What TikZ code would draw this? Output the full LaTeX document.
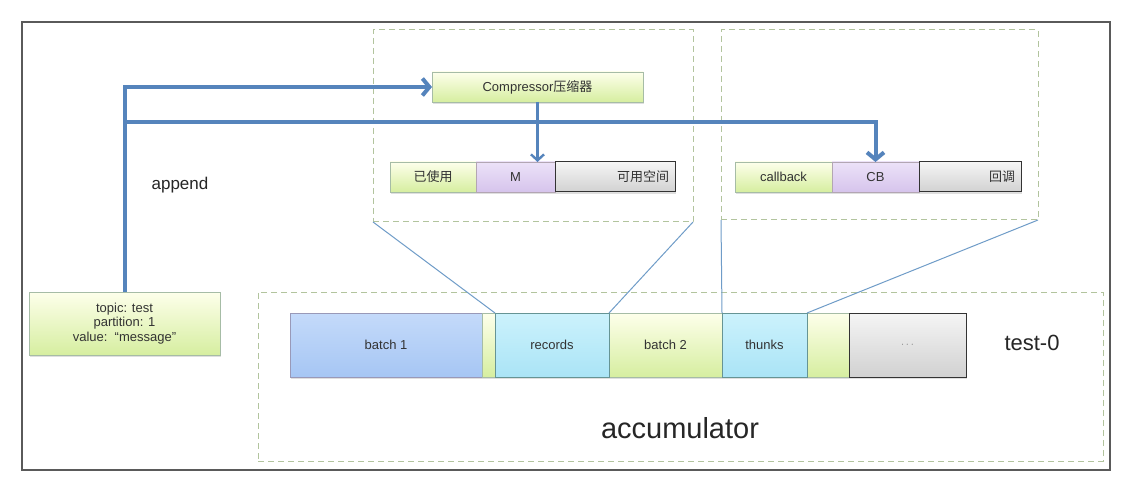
\documentclass[tikz,border=0pt]{standalone}
\usepackage{fontspec}
\setmainfont{Liberation Sans}
\newfontfamily\cjk{Noto Sans CJK SC}
\usetikzlibrary{arrows.meta,shadows}
\definecolor{arrowblue}{HTML}{5584BC}
\definecolor{thinblue}{HTML}{6F9CC8}
\definecolor{dashgreen}{HTML}{B2C49E}
\definecolor{framegray}{HTML}{5A5A5A}
\tikzset{
  seg/.style={rectangle, inner sep=0pt, outer sep=0pt, anchor=north west,
    font=\fontsize{13}{15}\selectfont, text=black!80,
    drop shadow={shadow xshift=1pt, shadow yshift=-2pt, opacity=0.25}},
  greenbox/.style={seg, draw=green!25!black!35, top color=green!8!yellow!8, bottom color={rgb,255:red,214;green,238;blue,160}},
  purplebox/.style={seg, draw=violet!30!black!35, top color={rgb,255:red,236;green,226;blue,248}, bottom color={rgb,255:red,214;green,196;blue,236}},
  graybox/.style={seg, draw=black!80, line width=1pt, top color=black!4, bottom color=black!18},
  bluebox/.style={seg, draw=blue!30!black!40, top color={rgb,255:red,196;green,218;blue,250}, bottom color={rgb,255:red,166;green,198;blue,244}},
  cyanbox/.style={seg, draw=teal!60!black!60, top color={rgb,255:red,204;green,242;blue,252}, bottom color={rgb,255:red,170;green,228;blue,246}},
  dbox/.style={rectangle, draw=dashgreen, dashed, dash pattern=on 6pt off 4pt, line width=1pt, anchor=north west, inner sep=0pt, outer sep=0pt},
  bigarrow/.style={draw=arrowblue, line width=4pt, -{Straight Barb[length=7pt,width=17pt]}},
  smallarrow/.style={draw=arrowblue, line width=2.4pt, -{Straight Barb[length=6pt,width=13pt]}},
  thinline/.style={draw=thinblue, line width=1pt},
  label/.style={inner sep=0pt, text=black!85}
}
\begin{document}
\begin{tikzpicture}[x=1pt, y=-1pt]
\useasboundingbox (0,0) rectangle (1127,489);
\fill[white] (0,0) rectangle (1127,489);
% outer frame
\draw[framegray, line width=1.5pt] (22,22) rectangle (1110,470);

% dashed regions
\node[dbox, minimum width=320pt, minimum height=192pt] (d1) at (373,30) {};
\node[dbox, minimum width=317pt, minimum height=190pt] (d2) at (721,30) {};
\node[dbox, minimum width=845pt, minimum height=169pt] (acc) at (258,292) {};

% compressor
\node[greenbox, minimum width=211pt, minimum height=30pt] (comp) at (432,72) {Compressor{\cjk 压缩器}};

% bar 1
\node[greenbox, minimum width=86pt, minimum height=30pt] (used) at (390,162) {{\cjk 已使用}};
\node[purplebox, minimum width=79pt, minimum height=30pt] (m) at (476,162) {M};
\node[graybox, minimum width=120pt, minimum height=30pt, text width=108pt, align=right] (free) at (555,162) {{\cjk 可用空间}};

% bar 2
\node[greenbox, minimum width=97pt, minimum height=30pt] (cbk) at (735,162) {callback};
\node[purplebox, minimum width=87pt, minimum height=30pt] (cb) at (832,162) {CB};
\node[graybox, minimum width=102pt, minimum height=30pt, text width=90pt, align=right] (hd) at (919,162) {{\cjk 回调}};

% topic box
\node[greenbox, minimum width=191pt, minimum height=63pt, align=center, font=\fontsize{13}{14.5}\selectfont] (topic) at (29,292) {topic: test\\partition: 1\\value:\ \ “message”};

% accumulator row
\node[bluebox, minimum width=192pt, minimum height=64pt] (b1) at (290,313) {batch 1};
\node[greenbox, minimum width=13pt, minimum height=64pt] (g1) at (482,313) {};
\node[greenbox, minimum width=113pt, minimum height=64pt] (b2) at (609,313) {batch 2};
\node[greenbox, minimum width=42pt, minimum height=64pt] (g2) at (807,313) {};
\node[cyanbox, minimum width=114pt, minimum height=64pt] (rec) at (495,313) {records};
\node[cyanbox, minimum width=85pt, minimum height=64pt] (th) at (722,313) {thunks};
\node[graybox, minimum width=117pt, minimum height=64pt, font=\fontsize{11}{13}\selectfont, text=black!50] (dots) at (849,313) {$\cdots$};

% labels
\node[label, font=\fontsize{17}{20}\selectfont] (app) at (180,185) {append};
\node[label, font=\fontsize{22}{26}\selectfont] (t0) at (1032,343) {test-0};
\node[label, font=\fontsize{29}{34}\selectfont] (accl) at (680,428) {accumulator};

% thin connectors
\draw[thinline] (d1.south west) -- (rec.north west);
\draw[thinline] (d1.south east) -- (rec.north east);
\draw[thinline] (d2.south west) -- (th.north west);
\draw[thinline] (d2.south east) -- (th.north east);

% arrows
\draw[smallarrow] (comp.south) -- (comp.south |- m.north);
\draw[bigarrow] (topic.north) |- (comp.west);
\coordinate (j) at (124.5,122);
\draw[bigarrow] (j) -| (cb.north);
\end{tikzpicture}
\end{document}
